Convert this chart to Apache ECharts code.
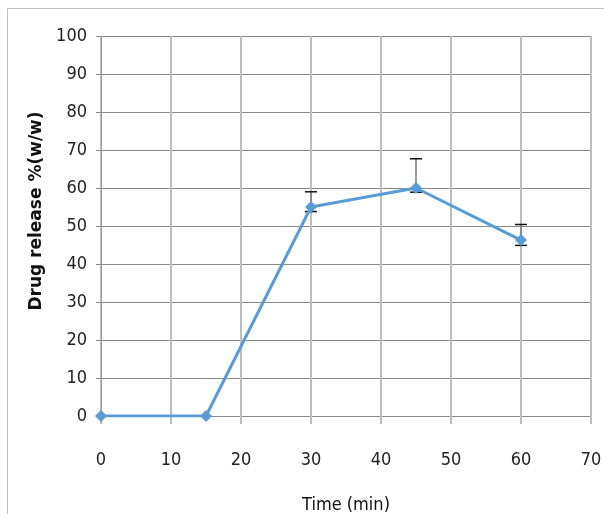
<!DOCTYPE html>
<html><head><meta charset="utf-8">
<script src="https://cdn.jsdelivr.net/npm/echarts@6/dist/echarts.min.js"></script>
<style>html,body{margin:0;padding:0;background:#fff}#c{width:604px;height:514px}</style>
</head><body><div id="c"></div>
<script>
const times = [0, 15, 30, 45, 60];
const release = [0, 0, 55, 60, 46.3];
const errUpper = [null, null, 59, 67.7, 50.4];
const errLower = [null, null, 53.8, 58.9, 44.9];
const xTicks = [0, 10, 20, 30, 40, 50, 60, 70];
const yTicks = [0, 10, 20, 30, 40, 50, 60, 70, 80, 90, 100];

const font = "'DejaVu Sans Condensed','Liberation Sans Narrow',sans-serif";
const chart = echarts.init(document.getElementById('c'));
const errData = times.map((t, i) => [t, errLower[i], errUpper[i]]).filter(d => d[1] != null);

chart.setOption({
  animation: false,
  graphic: [{type: 'rect', shape: {x: 7.5, y: 8.5, width: 700, height: 600}, style: {fill: 'none', stroke: '#bdbdbd', lineWidth: 1}, z: -10}],
  grid: {left: 101, top: 36, right: 13, bottom: 98, outerBoundsMode: 'none', containLabel: false},
  xAxis: {
    type: 'value', min: xTicks[0], max: xTicks[xTicks.length - 1], interval: 10,
    name: 'Time (min)', nameLocation: 'middle', nameGap: 80,
    nameTextStyle: {fontFamily: font, fontSize: 18, color: '#111'},
    axisLine: {show: true, lineStyle: {color: '#888', width: 1}},
    axisTick: {show: true, length: 8, lineStyle: {color: '#bbb', width: 2}},
    axisLabel: {fontFamily: font, fontSize: 18, color: '#222', margin: 35},
    splitLine: {show: true, lineStyle: {color: '#bdbdbd', width: 2}}
  },
  yAxis: {
    type: 'value', min: yTicks[0], max: yTicks[yTicks.length - 1], interval: 10,
    name: 'Drug release %(w/w)', nameLocation: 'middle', nameGap: 54, nameRotate: 90,
    nameTextStyle: {fontFamily: "'DejaVu Sans','Open Sans',sans-serif", fontWeight: 'bold', fontSize: 17, color: '#111', padding: [0, 0, 0, 30]},
    axisLine: {show: true, lineStyle: {color: '#999', width: 1}},
    axisTick: {show: true, length: 5, lineStyle: {color: '#888'}},
    axisLabel: {fontFamily: font, fontSize: 18, color: '#222', margin: 14},
    splitLine: {show: true, lineStyle: {color: '#888', width: 1}}
  },
  series: [
    {
      type: 'custom', z: 3,
      data: errData,
      renderItem: function (params, api) {
        const x = api.value(0);
        const lo = api.coord([x, api.value(1)]);
        const hi = api.coord([x, api.value(2)]);
        const w = 6;
        return {type: 'group', children: [
          {type: 'line', shape: {x1: hi[0], y1: hi[1], x2: lo[0], y2: lo[1]}, style: {stroke: '#777', lineWidth: 1.5}},
          {type: 'line', shape: {x1: hi[0] - w, y1: hi[1], x2: hi[0] + w, y2: hi[1]}, style: {stroke: '#111', lineWidth: 1.5}},
          {type: 'line', shape: {x1: lo[0] - w, y1: lo[1], x2: lo[0] + w, y2: lo[1]}, style: {stroke: '#111', lineWidth: 1.5}}
        ]};
      }
    },
    {
      type: 'line', z: 4,
      data: times.map((t, i) => [t, release[i]]),
      symbol: 'diamond', symbolSize: 12,
      lineStyle: {color: '#5b9bd5', width: 3},
      itemStyle: {color: '#5b9bd5'}
    }
  ]
});
</script></body></html>
